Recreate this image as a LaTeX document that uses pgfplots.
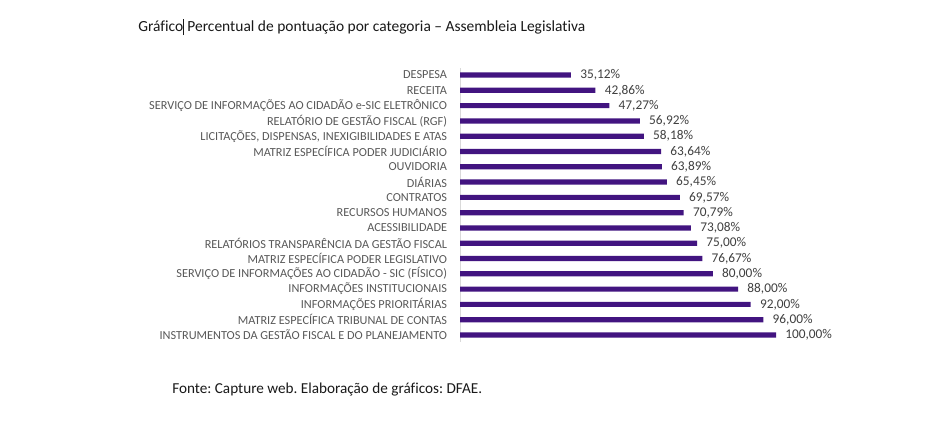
\documentclass[border=0pt]{standalone}
\usepackage{fontspec}
\setmainfont{Carlito}[Ligatures=CommonOff]
\usepackage{pgfplots}
\pgfplotsset{compat=1.18}
\definecolor{barc}{RGB}{66,20,128}
\definecolor{lab}{RGB}{89,89,89}
\definecolor{val}{RGB}{64,64,64}
\begin{document}
\frenchspacing
\begin{tikzpicture}[x=0.75pt,y=-0.75pt]
\path[use as bounding box, fill=white] (0,0) rectangle (950,433);
\node[anchor=west, inner sep=0pt, font=\fontsize{11.6pt}{13pt}\selectfont, text=black!90] at (138,27)
  {Gráfico\rule[-0.22em]{0.5pt}{1.05em} Percentual de pontuação por categoria – Assembleia Legislativa};
\node[anchor=west, inner sep=0pt, font=\fontsize{11.4pt}{13pt}\selectfont, text=black!90] at (172,390)
  {Fonte: Capture web. Elaboração de gráficos: DFAE.};
\begin{axis}[
  at={(345pt,-256.5pt)}, anchor=south west,
  x=, y=,
  scale only axis, width=237pt, height=205.5pt,
  xbar, bar width=3.9pt,
  xmin=0, xmax=100,
  ymin=-0.46, ymax=17.46, y dir=reverse,
  axis x line=none, axis y line*=left,
  y axis line style={-, draw=black!15, line width=0.6pt},
  ytick={0,...,17}, major tick length=0pt,
  yticklabels={DESPESA, RECEITA, SERVIÇO DE INFORMAÇÕES AO CIDADÃO e-SIC ELETRÔNICO, RELATÓRIO DE GESTÃO FISCAL (RGF), {LICITAÇÕES, DISPENSAS, INEXIGIBILIDADES E ATAS}, MATRIZ ESPECÍFICA PODER JUDICIÁRIO, OUVIDORIA, DIÁRIAS, CONTRATOS, RECURSOS HUMANOS, ACESSIBILIDADE, RELATÓRIOS TRANSPARÊNCIA DA GESTÃO FISCAL, MATRIZ ESPECÍFICA PODER LEGISLATIVO, SERVIÇO DE INFORMAÇÕES AO CIDADÃO - SIC (FÍSICO), INFORMAÇÕES INSTITUCIONAIS, INFORMAÇÕES PRIORITÁRIAS, MATRIZ ESPECÍFICA TRIBUNAL DE CONTAS, INSTRUMENTOS DA GESTÃO FISCAL E DO PLANEJAMENTO},
  yticklabel style={anchor=east, inner sep=0pt, xshift=-9.5pt, text=lab, font=\fontsize{9.2pt}{10pt}\selectfont},
  clip=false,
  nodes near coords={\pgfmathprintnumber[fixed, fixed zerofill, precision=2, use comma, assume math mode=true]{\pgfplotspointmeta}\%},
  nodes near coords style={anchor=west, inner sep=0pt, xshift=6.8pt, text=val, font=\fontsize{10pt}{11pt}\selectfont},
  point meta=x,
]
\addplot[fill=barc, draw=none] coordinates {
(35.12,0) (42.86,1) (47.27,2) (56.92,3) (58.18,4) (63.64,5) (63.89,6) (65.45,7) (69.57,8)
(70.79,9) (73.08,10) (75.00,11) (76.67,12) (80.00,13) (88.00,14) (92.00,15) (96.00,16) (100.00,17)};
\end{axis}
\end{tikzpicture}
\end{document}
